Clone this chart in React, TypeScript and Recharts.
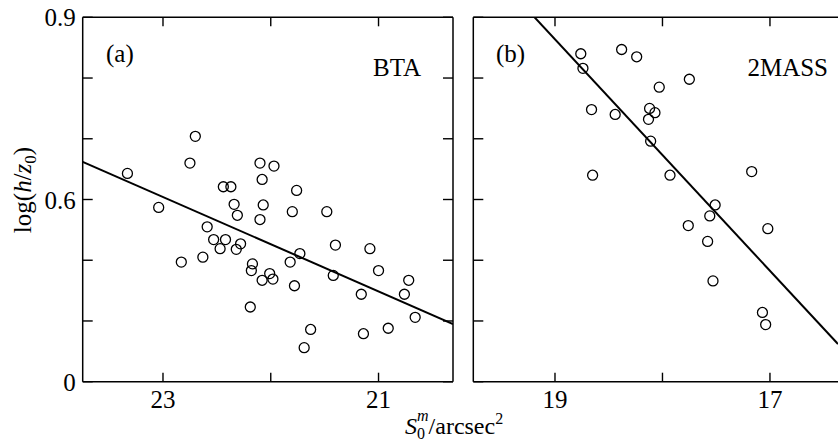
import { ScatterChart, Scatter, XAxis, YAxis } from 'recharts';

// panel (a) BTA
const btaMag = [
  23.33, 22.70, 22.75, 22.10, 21.97, 22.08, 22.44, 22.37, 21.76, 23.04,
  22.34, 22.07, 22.31, 22.10, 21.80, 21.48, 22.59, 22.53, 22.42, 22.47,
  22.32, 22.28, 21.40, 21.08, 22.83, 22.63, 22.17, 22.18, 21.82, 21.73,
  22.01, 22.08, 21.98, 21.78, 21.42, 21.00, 20.72, 20.76, 21.16, 22.19,
  21.63, 21.69, 21.14, 20.91, 20.66,
];
const btaLogH = [
  0.643, 0.704, 0.660, 0.660, 0.655, 0.633, 0.621, 0.621, 0.615, 0.587,
  0.592, 0.591, 0.574, 0.567, 0.580, 0.580, 0.555, 0.534, 0.534, 0.519,
  0.518, 0.527, 0.525, 0.519, 0.497, 0.505, 0.494, 0.483, 0.497, 0.511,
  0.478, 0.467, 0.469, 0.458, 0.475, 0.483, 0.467, 0.444, 0.444, 0.423,
  0.386, 0.356, 0.379, 0.388, 0.406,
];
const btaFitMag = [23.745, 20.309];
const btaFitLogH = [0.662, 0.395];

// panel (b) 2MASS
const tmMag = [
  18.76, 18.38, 18.24, 18.74, 17.75, 18.03, 18.66, 18.44, 18.12, 18.07,
  18.13, 18.11, 18.65, 17.93, 17.17, 17.51, 17.56, 17.76, 17.02, 17.58,
  17.53, 17.07, 17.04,
];
const tmLogH = [
  0.840, 0.847, 0.835, 0.816, 0.798, 0.785, 0.748, 0.740, 0.750, 0.743,
  0.732, 0.696, 0.640, 0.640, 0.646, 0.591, 0.573, 0.557, 0.552, 0.531,
  0.466, 0.414, 0.394,
];
const tmFitMag = [19.19, 16.367];
const tmFitLogH = [0.9, 0.362];

const yTicks = [0.3, 0.4, 0.5, 0.6, 0.7, 0.8, 0.9];
const yLabels: Record<string, string> = { '0.9': '0.9', '0.6': '0.6', '0.3': '0' };
const btaTicks = [23, 22, 21];
const btaLabels = [23, 21];
const tmTicks = [19, 18, 17];
const tmLabels = [19, 17];

const zip = (xs: number[], ys: number[]) => xs.map((x, i) => ({ x, y: ys[i] }));

const FONT = '"Liberation Serif", "Times New Roman", serif';
const INK = '#000';

const Ring = (p: any) => <circle cx={p.cx} cy={p.cy} r={5} fill="none" stroke={INK} strokeWidth={1.3} />;
const NoDot = () => <g />;

const bottomTick = (labels: number[]) => (p: any) => (
  <g>
    <line x1={p.x} x2={p.x} y1={p.y} y2={p.y - 9} stroke={INK} strokeWidth={1.4} />
    {labels.includes(p.payload.value) && (
      <text x={p.x} y={p.y + 26} textAnchor="middle" fontSize={25} fontFamily={FONT} fill={INK}>
        {p.payload.value}
      </text>
    )}
  </g>
);
const TopTick = (p: any) => (
  <line x1={p.x} x2={p.x} y1={p.y} y2={p.y + 9} stroke={INK} strokeWidth={1.4} />
);
const leftTick = (showLabels: boolean) => (p: any) => {
  const lbl = yLabels[String(Math.round(p.payload.value * 10) / 10)];
  return (
    <g>
      <line x1={p.x} x2={p.x + 10} y1={p.y} y2={p.y} stroke={INK} strokeWidth={1.4} />
      {showLabels && lbl && (
        <text x={p.x - 7} y={p.y + 9} textAnchor="end" fontSize={25} fontFamily={FONT} fill={INK}>
          {lbl}
        </text>
      )}
    </g>
  );
};
const RightTick = (p: any) => (
  <line x1={p.x} x2={p.x - 10} y1={p.y} y2={p.y} stroke={INK} strokeWidth={1.4} />
);

const axisLine = { stroke: INK, strokeWidth: 1.5 };

interface PanelProps {
  width: number;
  margin: { top: number; right: number; bottom: number; left: number };
  domain: [number, number];
  ticks: number[];
  labels: number[];
  points: { x: number; y: number }[];
  fit: { x: number; y: number }[];
  yLabels: boolean;
  rightAxis: boolean;
}

function Panel({ width, margin, domain, ticks, labels, points, fit, yLabels: showY, rightAxis }: PanelProps) {
  return (
    <ScatterChart width={width} height={443} margin={margin}>
      <XAxis
        type="number" dataKey="x" domain={domain} allowDataOverflow reversed ticks={ticks}
        height={1} tickSize={0} tickMargin={0} tick={bottomTick(labels)}
        axisLine={axisLine} interval={0}
      />
      <XAxis
        xAxisId="top" orientation="top" type="number" dataKey="x" domain={domain} allowDataOverflow reversed
        ticks={ticks} height={1} tickSize={0} tickMargin={0} tick={TopTick}
        axisLine={axisLine} interval={0}
      />
      <YAxis
        type="number" dataKey="y" domain={[0.3, 0.9]} allowDataOverflow ticks={yTicks}
        width={1} tickSize={0} tickMargin={0} tick={leftTick(showY)}
        axisLine={axisLine} interval={0}
      />
      {rightAxis && (
        <YAxis
          yAxisId="r" orientation="right" type="number" dataKey="y" domain={[0.3, 0.9]} allowDataOverflow
          ticks={yTicks} width={1} tickSize={0} tickMargin={0} tick={RightTick}
          axisLine={axisLine} interval={0}
        />
      )}
      <Scatter data={fit} line={{ stroke: INK, strokeWidth: 2 }} shape={NoDot} isAnimationActive={false} />
      <Scatter data={points} shape={Ring} isAnimationActive={false} />
    </ScatterChart>
  );
}

export default function App() {
  return (
    <div style={{ position: 'absolute', left: 0, top: 0, width: 838, height: 443, background: '#fff', overflow: 'hidden' }}>
      <div style={{ position: 'absolute', left: 0, top: 0 }}>
        <Panel
          width={470}
          margin={{ top: 16.3, right: 16, bottom: 60.3, left: 81.7 }}
          domain={[20.309, 23.745]}
          ticks={btaTicks}
          labels={btaLabels}
          points={zip(btaMag, btaLogH)}
          fit={zip(btaFitMag, btaFitLogH)}
          yLabels
          rightAxis
        />
      </div>
      <div style={{ position: 'absolute', left: 460, top: 0 }}>
        <Panel
          width={378}
          margin={{ top: 16.3, right: 0, bottom: 60.3, left: 12.3 }}
          domain={[16.367, 19.76]}
          ticks={tmTicks}
          labels={tmLabels}
          points={zip(tmMag, tmLogH)}
          fit={zip(tmFitMag, tmFitLogH)}
          yLabels={false}
          rightAxis={false}
        />
      </div>
      <svg width={838} height={443} style={{ position: 'absolute', left: 0, top: 0, pointerEvents: 'none' }}>
        <g fontFamily={FONT} fill={INK}>
          <text x={106} y={62} fontSize={25}>(a)</text>
          <text x={421} y={76} fontSize={25} textAnchor="end">BTA</text>
          <text x={496} y={62} fontSize={25}>(b)</text>
          <text x={828} y={76} fontSize={25} textAnchor="end">2MASS</text>
          <text transform="translate(31,190) rotate(-90)" textAnchor="middle" fontSize={25}>
            log(<tspan fontStyle="italic">h</tspan>/<tspan fontStyle="italic">z</tspan>
            <tspan fontSize={17} dy={5}>0</tspan>
            <tspan dy={-5}>)</tspan>
          </text>
          <text x={405} y={434} fontSize={24}>
            <tspan fontStyle="italic">S</tspan>
            <tspan fontSize={16} dy={5}>0</tspan>
            <tspan fontSize={16} fontStyle="italic" dx={-8} dy={-18}>m</tspan>
            <tspan dy={13}>/arcsec</tspan>
            <tspan fontSize={16} dy={-10}>2</tspan>
          </text>
        </g>
      </svg>
    </div>
  );
}
